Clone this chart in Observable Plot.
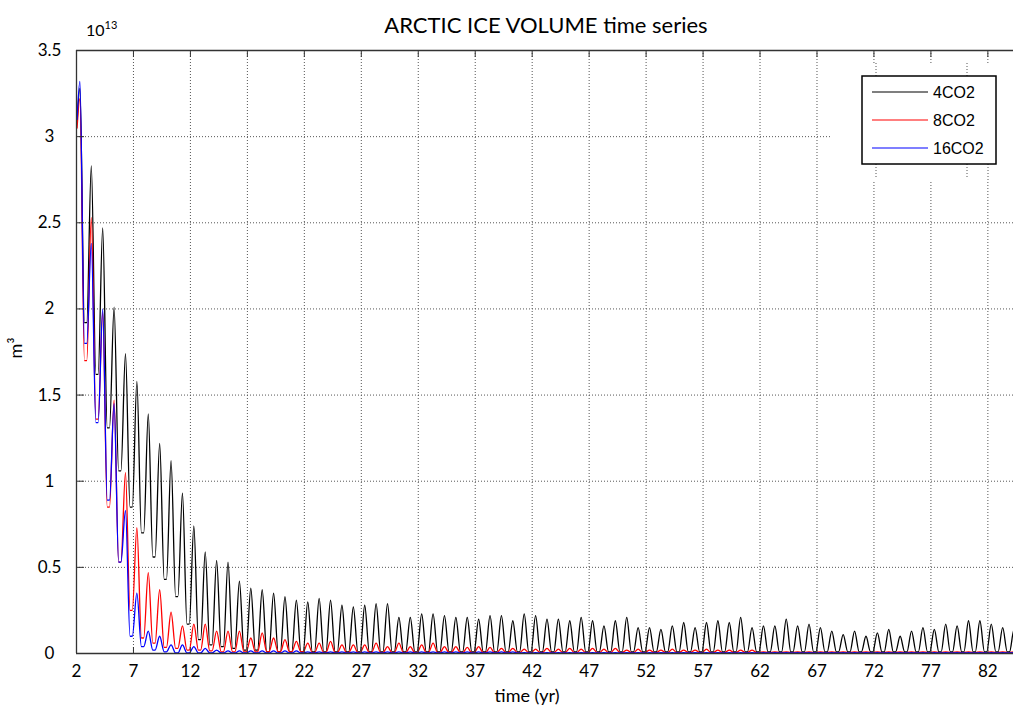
<!DOCTYPE html>
<html><head><meta charset="utf-8">
<script src="https://cdn.jsdelivr.net/npm/d3@7"></script>
<script src="https://cdn.jsdelivr.net/npm/@observablehq/plot@0.6"></script>
<style>body{margin:0;background:#fff;} svg{display:block;}</style>
</head><body><div id="chart"></div>
<script>
// ---- data ----
const years = [2,3,4,5,6,7,8,9,10,11,12,13,14,15,16,17,18,19,20,21,22,23,24,25,26,27,28,29,30,31,32,33,34,35,36,37,38,39,40,41,42,43,44,45,46,47,48,49,50,51,52,53,54,55,56,57,58,59,60,61,62,63,64,65,66,67,68,69,70,71,72,73,74,75,76,77,78,79,80,81,82,83,84];

// yearly seasonal maxima / minima, units of 1e13 m^3
const blackPeak = [3.28,2.83,2.47,2.01,1.74,1.58,1.39,1.22,1.12,0.93,
  0.74,0.59,0.54,0.53,0.42,0.38,0.37,0.35,0.33,0.31,
  0.30,0.32,0.31,0.28,0.27,0.28,0.29,0.29,0.21,0.21,
  0.23,0.23,0.22,0.21,0.21,0.20,0.22,0.22,0.19,0.23,
  0.22,0.20,0.20,0.19,0.21,0.19,0.16,0.19,0.21,0.15,
  0.15,0.14,0.16,0.18,0.15,0.18,0.19,0.18,0.21,0.15,
  0.16,0.16,0.20,0.16,0.17,0.15,0.13,0.11,0.13,0.10,
  0.12,0.14,0.10,0.13,0.15,0.14,0.17,0.16,0.19,0.19,
  0.17,0.15,0.14];
const blackTrough = [1.92,1.62,1.31,1.06,0.85,0.70,0.56,0.43,0.33,0.17,
  0.08,0.05,0.04,0.03,0.02,0.02,0.01,0.01,0.01,0.01,
  0.01,0.01,0.01,0.01,0.01,0.01,0.01,0.01,0.01,0.01,
  0.01,0.01,0.01,0.01,0.01,0.01,0.01,0.01,0.01,0.01,
  0.01,0.01,0.01,0.01,0.01,0.01,0.01,0.01,0.01,0.01,
  0.01,0.01,0.01,0.01,0.01,0.01,0.01,0.01,0.01,0.01,
  0.01,0.01,0.01,0.01,0.01,0.01,0.01,0.01,0.01,0.01,
  0.01,0.01,0.01,0.01,0.01,0.01,0.01,0.01,0.01,0.01,
  0.01,0.01,0.01];
const redPeak = [3.22,2.53,1.98,1.47,1.05,0.73,0.47,0.37,0.24,0.16,
  0.17,0.17,0.13,0.13,0.13,0.09,0.12,0.09,0.08,0.07,
  0.06,0.06,0.07,0.05,0.05,0.05,0.06,0.04,0.06,0.04,
  0.05,0.06,0.04,0.04,0.035,0.04,0.035,0.03,0.03,0.025,
  0.025,0.03,0.025,0.03,0.025,0.03,0.025,0.03,0.02,0.025,
  0.02,0.02,0.025,0.02,0.02,0.025,0.02,0.02,0.02,0.02,
  0.01,0.01,0.01,0.01,0.01,0.01,0.01,0.01,0.01,0.01,
  0.01,0.01,0.01,0.01,0.01,0.01,0.01,0.01,0.01,0.01,
  0.01,0.01,0.01];
const redTrough = [1.70,1.36,0.85,0.53,0.25,0.09,0.06,0.035,0.03,0.02,
  0.02,0.015,0.01,0.01,0.01,0.01,0.01,0.01,0.01,0.01,
  0.005,0.005,0.005,0.005,0.005,0.005,0.005,0.005,0.005,0.005,
  0.005,0.005,0.005,0.005,0.005,0.005,0.005,0.005,0.005,0.005,
  0.005,0.005,0.005,0.005,0.005,0.005,0.005,0.005,0.005,0.005,
  0.005,0.005,0.005,0.005,0.005,0.005,0.005,0.005,0.005,0.005,
  0.005,0.005,0.005,0.005,0.005,0.005,0.005,0.005,0.005,0.005,
  0.005,0.005,0.005,0.005,0.005,0.005,0.005,0.005,0.005,0.005,
  0.005,0.005,0.005];
const bluePeak = [3.32,2.38,2.00,1.45,0.83,0.35,0.13,0.10,0.05,0.05,
  0.04,0.03,0.02,0.015,0.015,0.015,0.015,0.015,0.015,0.015,
  0.01,0.01,0.01,0.01,0.01,0.01,0.01,0.01,0.01,0.01,
  0.01,0.01,0.01,0.01,0.01,0.01,0.01,0.01,0.01,0.005,
  0.005,0.005,0.005,0.005,0.005,0.005,0.005,0.005,0.005,0.005,
  0.005,0.005,0.005,0.005,0.005,0.005,0.005,0.005,0.005,0.005,
  0.005,0.005,0.005,0.005,0.005,0.005,0.005,0.005,0.005,0.005,
  0.005,0.005,0.005,0.005,0.005,0.005,0.005,0.005,0.005,0.005,
  0.005,0.005,0.005];
const blueTrough = [1.80,1.34,0.89,0.53,0.10,0.04,0.02,0.01,0.003,0.003,
  0.003,0.003,0.003,0.003,0.003,0.003,0.003,0.003,0.003,0.003,
  0.003,0.003,0.003,0.003,0.003,0.003,0.003,0.003,0.003,0.003,
  0.003,0.003,0.003,0.003,0.003,0.003,0.003,0.003,0.003,0.003,
  0.003,0.003,0.003,0.003,0.003,0.003,0.003,0.003,0.003,0.003,
  0.003,0.003,0.003,0.003,0.003,0.003,0.003,0.003,0.003,0.003,
  0.003,0.003,0.003,0.003,0.003,0.003,0.003,0.003,0.003,0.003,
  0.003,0.003,0.003,0.003,0.003,0.003,0.003,0.003,0.003,0.003,
  0.003,0.003,0.003];
const startValues = [3.08, 3.05, 3.10];   // first sample of each run
const startTime = 2.05;
// seasonal timing within each year (fraction of year)
const peakPhase = 0.3, troughStartPhase = 0.7, troughEndPhase = 0.9;

const seriesNames = ["4CO2", "8CO2", "16CO2"];
const seriesColors = ["#000000", "#ff0000", "#0000ff"];
const xTicks = [2,7,12,17,22,27,32,37,42,47,52,57,62,67,72,77,82];
const yTicks = [0,0.5,1,1.5,2,2.5,3,3.5];
const yTickLabels = ["0","0.5","1","1.5","2","2.5","3","3.5"];

function build(name, start, peaks, troughs) {
  const rows = [{series: name, t: startTime, v: start}];
  years.forEach((n, i) => {
    rows.push({series: name, t: n + peakPhase, v: peaks[i]});
    rows.push({series: name, t: n + troughStartPhase, v: troughs[i]});
    rows.push({series: name, t: n + troughEndPhase, v: troughs[i]});
  });
  return rows;
}
const black = build(seriesNames[0], startValues[0], blackPeak, blackTrough);
const red = build(seriesNames[1], startValues[1], redPeak, redTrough);
const blue = build(seriesNames[2], startValues[2], bluePeak, blueTrough);

const gridStyle = {stroke: "#555", strokeOpacity: 1, strokeWidth: 1, strokeDasharray: "1,2"};
const lineOpts = {x: "t", y: "v", strokeWidth: 1.3, curve: "monotone-x", clip: true};

const plot = Plot.plot({
  width: 1013, height: 707,
  marginTop: 50, marginBottom: 54, marginLeft: 76, marginRight: 0,
  style: {fontFamily: "Lato, sans-serif", background: "#fff", color: "#000"},
  x: {domain: [2, 84.25], label: null},
  y: {domain: [0, 3.5], label: null},
  marks: [
    Plot.gridX(xTicks.slice(1), gridStyle),
    Plot.gridY(yTicks.slice(1, -1), gridStyle),
    Plot.line(black, {...lineOpts, stroke: seriesColors[0]}),
    Plot.line(red, {...lineOpts, stroke: seriesColors[1]}),
    Plot.line(blue, {...lineOpts, stroke: seriesColors[2]}),
    Plot.ruleX([2], {stroke: "#333", strokeWidth: 1.3}),
    Plot.ruleY([0], {stroke: "#333", strokeWidth: 1.3}),
    Plot.ruleY([3.5], {stroke: "#333", strokeWidth: 1.3}),
    // inward tick marks
    Plot.axisX(xTicks, {anchor: "bottom", tickSize: 6, dy: -6, tickFormat: () => "", stroke: "#333"}),
    Plot.axisX(xTicks, {anchor: "top", tickSize: 6, dy: 6, tickFormat: () => "", stroke: "#333"}),
    Plot.axisY(yTicks, {anchor: "left", tickSize: 8, dx: 8, tickFormat: () => "", stroke: "#333"}),
    // tick labels
    Plot.axisX(xTicks, {anchor: "bottom", tickSize: 0, tickPadding: 11, fontSize: 17, tickFormat: d => String(d)}),
    Plot.axisY(yTicks, {anchor: "left", tickSize: 0, tickPadding: 27, textAnchor: "middle", fontSize: 17,
      tickFormat: d => yTickLabels[yTicks.indexOf(d)]})
  ]
});
document.getElementById("chart").appendChild(plot);

// ---- annotations: title, exponent, axis labels, legend ----
const svg = d3.select(plot);
svg.append("text").attr("x", 546).attr("y", 33).attr("text-anchor", "middle")
  .style("font", "22px Lato, sans-serif").attr("fill", "#000").text("ARCTIC ICE VOLUME time series");
const exp = svg.append("text").attr("x", 86).attr("y", 36).attr("text-anchor", "start")
  .style("font", "16px Lato, sans-serif").attr("fill", "#000");
exp.append("tspan").text("10");
exp.append("tspan").attr("dy", -7).style("font-size", "11px").text("13");
svg.append("text").attr("transform", "translate(22,348) rotate(-90)").attr("text-anchor", "middle")
  .style("font", "18px Lato, sans-serif").attr("fill", "#000").text("m³");
svg.append("text").attr("x", 527).attr("y", 702).attr("text-anchor", "middle")
  .style("font", "18px Lato, sans-serif").attr("fill", "#000").text("time (yr)");

const lg = svg.append("g");
lg.append("rect").attr("x", 830).attr("y", 63).attr("width", 183).attr("height", 118).attr("fill", "#fff");
[[876, 63, 76], [967, 63, 76], [876, 164, 178], [967, 164, 178], [988, 164, 181]].forEach(([x, y1, y2]) => {
  lg.append("line").attr("x1", x).attr("x2", x).attr("y1", y1).attr("y2", y2)
    .attr("stroke", "#555").attr("stroke-dasharray", "1,2");
});
lg.append("rect").attr("x", 862).attr("y", 76).attr("width", 134).attr("height", 88)
  .attr("fill", "#fff").attr("stroke", "#000").attr("stroke-width", 1.5);
seriesNames.forEach((name, i) => {
  const y = 92 + i * 28;
  lg.append("line").attr("x1", 872).attr("x2", 928).attr("y1", y).attr("y2", y)
    .attr("stroke", seriesColors[i]).attr("stroke-width", 1.2);
  lg.append("text").attr("x", 933).attr("y", y + 6).attr("text-anchor", "start")
    .style("font", "16px 'Liberation Sans', sans-serif")
    .attr("fill", "#000").text(name);
});
</script>
</body></html>
